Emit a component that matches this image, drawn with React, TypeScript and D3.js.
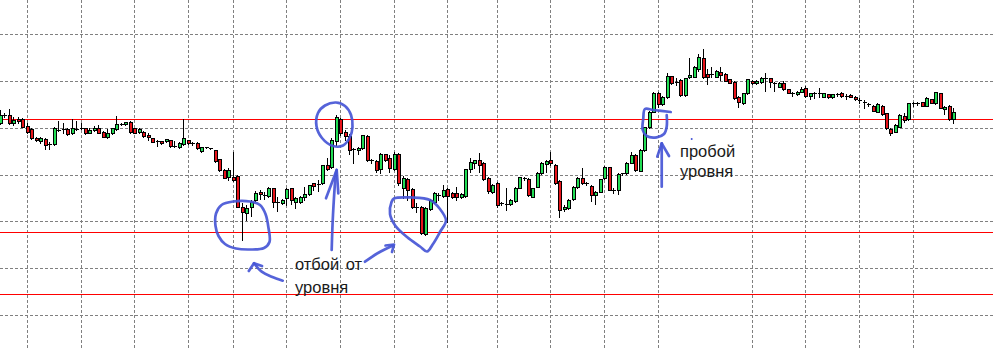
import React from 'react';
import * as d3 from 'd3';

const WIDTH = 993;
const HEIGHT = 348;

// OHLC quotes in points: [open, high, low, close]
const candles: [number, number, number, number][] = [
  [276.7,290,275.7,285],[285,286.7,283.3,285],[285,290.7,275.7,276.7],[276.7,283.3,275,280],[281,283.3,276.7,279.5],
  [280.7,281.7,272.7,273.3],[274,276.7,266.7,267.7],[270.7,271.7,260.7,261.7],[261.7,263.3,259,260],[259.3,263.3,256.7,261.7],
  [260.7,261.7,250.7,255],[255.7,258.3,250.7,255.7],[255.7,273,255,271.7],[270.3,279,269.3,270.3],[271.3,276.7,266.7,271.3],
  [271,271.5,265.5,266],[266.7,280.7,266,271.7],[271.3,279,270.3,271.3],[272.3,276.7,270.7,272.3],[271.7,272,266,266.7],
  [267.3,272,266.7,270],[269.7,274,269,272],[272,275,266.7,267.3],[268.3,269,263,263.3],[262.7,270.7,262.3,267.3],
  [266.7,272.3,266,271.7],[270.7,284,270,275.7],[275.7,277,275,275.7],[275.7,278.3,275,277.7],[277.7,279,267.3,268.3],
  [271.7,272,266.7,267.3],[267.7,271.5,267,271],[267.7,269.3,263.3,264.3],[265,266.7,260,262.7],[261.7,262,258,258.3],
  [259,260,254,259],[259,259.5,256,256.7],[258.7,261,258,260.7],[260,260.5,253.5,254],[254,259.3,253.3,254],
  [252.7,258,252,257.3],[256,280.7,255,261.7],[259.7,260,256.5,257.3],[256.7,258.3,255,256.7],[256.7,258.3,250.7,251.7],
  [249.3,253.3,248.3,252.7],[252.7,253.3,252,252.7],[251.7,252.3,251,251.7],[250,250.3,238.3,239.3],[240.7,241,229.5,230],
  [230,230.5,221.7,222.3],[222.7,231.7,220,230],[222.7,248.3,219,220],[224,225,193,193.3],[193.3,196.7,160,188.3],
  [187.3,195,180,191.7],[192.7,200,184,198.3],[200,209,199,207.3],[208.3,210,200.7,205.7],[205,208.3,200.7,205],
  [204,213.3,203.3,211.7],[211.7,212.3,193.3,197.7],[198.3,203.3,189.3,198.3],[197.3,201,196,200],[201.7,211.7,195,210.7],
  [211.7,212.3,195.7,200],[197.7,203.3,191.7,201.7],[198.3,204,197.5,203.3],[202.7,213.3,200,206],[206,215.5,205.5,215],
  [216.7,217.3,210,214],[216,220,209,216],[216.7,235.5,216,235],[235,241.7,230,230.7],[232.7,261.7,231.7,260],
  [259.3,285,255,282.7],[280.7,281.7,265,267.3],[268.3,270,260,264.3],[264.3,265.7,246,250],[250.7,251.7,236.7,250.7],
  [250,253.3,246,251.7],[251.7,265.5,251.5,265],[264,265,239,240],[240,240.7,236.7,240],[239,240,228.3,230],
  [230.7,246.7,226.7,245.7],[245.7,246,239,240],[242.3,245,228,231.7],[230.7,248.3,230,245.7],[245.7,247,215,217],
  [211.7,224,202,221.7],[220.7,222,200,210],[211,212,192,193],[193.3,196.7,188.3,193.3],[193,194,166,167],
  [166,193,165,191.7],[190.7,201,190,200],[198.3,208.3,196.7,206.7],[205,207.3,200,205],[204,215,203,210],
  [210.7,211.7,178.3,204],[206.7,208,202,203.3],[206.7,213.3,200,203],[203.3,207,202.5,206],[204,231.5,203.5,230.7],
  [230.5,241.7,228.3,238],[236.7,240,231.7,239.5],[239.5,246.7,228.3,235],[236.7,238,220,220.7],[221.7,223,207,209.3],
  [208.3,216,207,215],[216.7,218.3,193,195],[196.7,198,195,196.7],[196,211.7,190,196],[196,201,195,200],
  [199,212.7,198.3,211.7],[212.3,223.3,212,222.7],[222.3,223.3,220,222.3],[220.7,222,204,205],[203.3,212.3,203,211.7],
  [213.3,228.3,212.5,227.3],[226.7,238.3,226,236.7],[235.7,240,228,239],[240,248.3,235,236.7],[235,236,216,216.7],
  [219,220,182.7,190],[190.7,195,189.3,193.3],[191.7,201,191,200],[200.7,214,200,213.3],[213.3,223,212,222.3],
  [222.3,231.7,216,216.7],[216.7,218,215,216.7],[214,215,199.3,205],[205,209.3,196,208.3],[208.3,221.3,208,220.7],
  [221.7,234,221,232.7],[232.7,233.3,210,210.3],[210,211.7,207,210],[210,226.7,206,226],[226.7,227.3,225,226.7],
  [227,238,226,237],[237.3,248.3,236.7,245],[245,246,229,230],[229.5,251,229,250],[250,273.3,249,272.7],
  [272.7,289,272,288.3],[288.3,308,287.7,307.3],[307.3,308.3,293.3,296],[296,304,295,303.3],[303.3,327.3,301.7,324],
  [324,324.5,316,316.7],[318.3,321.7,315,318.3],[320,321,304,305],[305,322.3,304,321.7],[322.7,341.7,321.7,325],
  [323.3,334,322.7,333.3],[330.7,346,329.3,343.3],[341.7,350.7,322.3,322.7],[325.7,330.7,315.7,323.3],[325.7,333.3,323.3,325.7],
  [323.3,329.7,322.7,329],[328.3,333.3,320,325],[326,326.7,318.7,319.3],[320.7,321.3,316.7,317.3],[318.3,319,301,301.7],
  [303.3,304,292.7,298.3],[296.7,307.3,296,306.7],[306.7,321.3,306,320.7],[319.3,320,316,316.7],[316.7,320,316,319.3],
  [318.3,323.3,316.7,321.7],[321.7,327.3,309.3,321.7],[321.7,322.3,313.3,318.3],[316.7,318.3,309.3,316.7],[313.3,318,312.7,317.3],
  [317.3,319.3,310,310.7],[310.7,311.3,306.7,307.3],[306.7,308.3,304,306.7],[305.7,309,305,308.3],[308.3,313.3,307.7,311],
  [311.7,314,303.3,304],[304,307.3,300.7,306.7],[306.7,308.3,301.7,306.7],[306.7,311.7,303.3,306.7],[303.3,307.3,303,306.7],
  [305.7,306.3,302.3,302.7],[302.7,306.3,302.3,305.7],[305.7,306.7,304,305.7],[306.7,308.3,303.3,304],[304,305.7,300.7,304],
  [305,305.7,303,303.3],[303,303.7,300,300.7],[300,301.7,297.3,300],[298.3,300,291.7,298.3],[295.7,296.7,294.3,295.7],
  [294,294.7,288.7,289.3],[288.3,297.3,287.7,295.7],[294,294.7,285.3,286],[286.7,287.3,270.7,271.7],[271,271.7,265,267.3],
  [268.3,275.7,267.7,275],[273.3,285.7,272.7,285],[284,287.3,278.3,280],[280.7,297.3,280,296.7],[296.7,298.3,294,296.7],
  [297.3,298.3,295,297.3],[297.7,298.3,293.7,294.3],[294.3,303,293.7,302.3],[300.7,301.3,296.7,297.3],[296.7,308.3,296,307.7],
  [306.7,307.3,291.7,292.3],[291,294,286,293],[294,294.7,280.3,281],[281,291.7,277.3,288.3],
];

const levelPrices = [281, 168, 105.3];
const gridPrices = [365.2, 318.4, 271.8, 225, 178.2, 131.5, 84.7];
const gridBars = [6, 18, 30, 42, 52, 64, 76, 88, 100, 111, 123, 135, 147, 168, 180, 192, 204];

// hand-drawn annotations, points as [bar, price]
const loopFirstLow: [number, number][] = [
  [51.97,198.5],[55.77,198.5],[58.0,195],[59.23,186],[59.9,172],[60.12,158],[58.89,152],
  [55.77,150.5],[52.64,151.5],[50.18,156],[48.73,164],[48.06,174],[48.17,186.5],[49.4,195],
];
const loopPeak: [number, number][] = [
  [74.98,297.5],[77.0,294],[78.34,285],[78.67,273],[78.11,263],[76.55,254.5],[74.31,254],
  [71.85,262],[70.62,274],[70.96,287],[72.53,294.5],
];
const loopSecondLow: [number, number][] = [
  [87.94,201.5],[91.97,202.5],[95.99,200],[98.22,191],[99.56,179.5],[98.22,168],[96.66,156],
  [95.32,148.5],[93.75,153.5],[90.85,163],[88.28,174],[87.05,186],[87.39,198],
];
const bracketBreak: [number, number][] = [
  [149.78,288],[145.89,290],[144.03,291],[143.65,281.7],[143.52,270],[144.41,264],
  [146.65,262.7],[148.28,266],[148.88,273.3],[148.88,285],
];
const arrows: { shaft: [number, number][]; head: [number, number][] }[] = [
  { shaft: [[74.02,150],[74.31,185],[74.98,227],[75.14,230]], head: [[72.75,201.7],[75.14,230],[75.5,206.7]] },
  { shaft: [[81.46,138.3],[84.37,147],[87.72,154.5]], head: [[86.05,154.5],[87.95,155.5],[87.5,148]] },
  { shaft: [[63.07,119.3],[60.61,123.3],[58.38,128.3],[56.66,136.7]], head: [[55.5,129],[56.66,136.7],[58.45,134]] },
  { shaft: [[147.77,213.3],[147.77,256.7]], head: [[146.78,243.3],[147.77,256.7],[149.4,244]] },
];
const dot: [number, number] = [154.47, 261];

const labels = [
  { text: 'отбой от', bar: 65.82, price: 130 },
  { text: 'уровня', bar: 65.82, price: 107.5 },
  { text: 'пробой', bar: 151.85, price: 243.5 },
  { text: 'уровня', bar: 151.85, price: 223 },
];

const GREEN = '#22dd55';
const RED = '#e8141b';
const BLUE = '#4656d6';

export default function App() {
  const x = d3.scaleLinear().domain([0, 221]).range([0.45, 0.45 + 221 * 4.475]);
  const y = d3.scaleLinear().domain([52, 400]).range([HEIGHT, 0]);

  const line = d3.line<[number, number]>().x(d => x(d[0])).y(d => y(d[1]));
  const smooth = d3.line<[number, number]>().x(d => x(d[0])).y(d => y(d[1])).curve(d3.curveCatmullRom.alpha(0.5));
  const closed = d3.line<[number, number]>().x(d => x(d[0])).y(d => y(d[1])).curve(d3.curveCatmullRomClosed.alpha(0.5));

  const blueStyle = { fill: 'none', stroke: BLUE, strokeWidth: 2.7, strokeLinecap: 'round' as const, strokeLinejoin: 'round' as const, opacity: 0.92 };

  return (
    <svg width={WIDTH} height={HEIGHT} style={{ position: 'absolute', left: 0, top: 0, background: '#fff' }}>
      <rect x={0} y={0} width={WIDTH} height={HEIGHT} fill="#fff" />
      <g stroke="#808080" strokeWidth={1} strokeDasharray="3,2" shapeRendering="crispEdges">
        {gridPrices.map((p, k) => {
          const yy = Math.floor(y(p)) + 0.5;
          return <line key={'h' + k} x1={0} x2={WIDTH} y1={yy} y2={yy} />;
        })}
        {gridBars.map((b, k) => {
          const xx = Math.floor(x(b)) + 0.5;
          return <line key={'v' + k} x1={xx} x2={xx} y1={0} y2={HEIGHT} />;
        })}
      </g>
      <g stroke="#ff0000" strokeWidth={1} shapeRendering="crispEdges">
        {levelPrices.map((p, k) => {
          const yy = Math.floor(y(p)) + 0.5;
          return <line key={k} x1={0} x2={WIDTH} y1={yy} y2={yy} />;
        })}
      </g>
      <g shapeRendering="crispEdges">
        {candles.map(([o, h, l, c], i) => {
          const n = Math.floor(x(i));
          const top = Math.round(y(Math.max(o, c)));
          const bot = Math.round(y(Math.min(o, c)));
          const hi = Math.round(y(h));
          const lo = Math.round(y(l));
          const bull = c > o;
          return (
            <g key={i}>
              <line x1={n + 0.5} x2={n + 0.5} y1={hi} y2={lo + 1} stroke="#000" strokeWidth={1} />
              {bot - top < 1 ? (
                <line x1={n - 1} x2={n + 3} y1={top + 0.5} y2={top + 0.5} stroke="#000" strokeWidth={1} />
              ) : (
                <rect x={n - 0.5} y={top + 0.5} width={3} height={bot - top} fill={bull ? GREEN : RED} stroke="#000" strokeWidth={1} />
              )}
            </g>
          );
        })}
      </g>
      <g>
        {labels.map((lb, k) => (
          <text key={k} x={x(lb.bar)} y={y(lb.price)} fontFamily="'Liberation Sans', Arial, sans-serif" fontSize={16.5} wordSpacing={2} fill="#1a1a1a">
            {lb.text}
          </text>
        ))}
      </g>
      <g>
        <path d={closed(loopFirstLow) || ''} {...blueStyle} />
        <path d={closed(loopPeak) || ''} {...blueStyle} />
        <path d={closed(loopSecondLow) || ''} {...blueStyle} />
        <path d={smooth(bracketBreak) || ''} {...blueStyle} />
        {arrows.map((a, k) => (
          <g key={k}>
            <path d={smooth(a.shaft) || ''} {...blueStyle} />
            <path d={line(a.head) || ''} {...blueStyle} />
          </g>
        ))}
        <circle cx={x(dot[0])} cy={y(dot[1])} r={1} fill={BLUE} />
      </g>
    </svg>
  );
}
